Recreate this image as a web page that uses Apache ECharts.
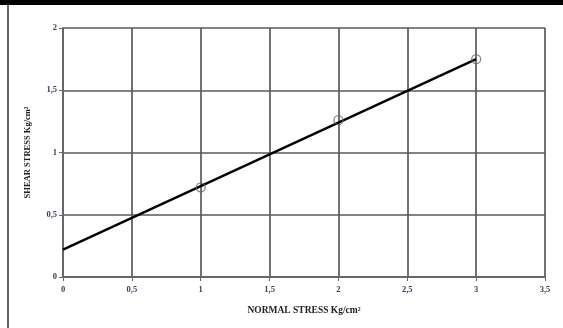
<!DOCTYPE html>
<html><head><meta charset="utf-8">
<script src="https://cdn.jsdelivr.net/npm/echarts@6/dist/echarts.min.js"></script>
<style>html,body{margin:0;padding:0;background:#fff}#c{width:563px;height:328px}</style>
</head><body><div id="c"></div>
<script>
var normalStress = [1, 2, 3];
var shearStress = [0.72, 1.26, 1.75];
var fitX = [0, 3];
var fitY = [0.22, 1.75];
var xTitle = 'NORMAL STRESS Kg/cm²';
var yTitle = 'SHEAR STRESS Kg/cm²';

var chart = echarts.init(document.getElementById('c'));
var font = 'Liberation Serif';
var fmt = function (v) { return String(v).replace('.', ','); };
chart.setOption({
  animation: false,
  grid: { left: 63, top: 28, right: 18, bottom: 51 },
  graphic: [
    { type: 'rect', shape: { x: 0, y: 0, width: 563, height: 5 }, style: { fill: '#000' } },
    { type: 'line', shape: { x1: 8, y1: 5, x2: 8, y2: 328 }, style: { stroke: '#666', lineWidth: 2 } }
  ],
  xAxis: {
    type: 'value', min: 0, max: 3.5, interval: 0.5,
    name: xTitle, nameLocation: 'middle', nameGap: 29,
    nameTextStyle: { fontFamily: font, fontWeight: 'bold', fontSize: 9.5, color: '#222', letterSpacing: -0.3 },
    axisLine: { show: true, lineStyle: { color: '#666', width: 2 } },
    axisTick: { show: true, length: 4, lineStyle: { color: '#666', width: 1 } },
    axisLabel: { formatter: fmt, fontFamily: font, fontWeight: 'bold', fontSize: 8.5, color: '#3a3a55', margin: 8 },
    splitLine: { show: true, lineStyle: { color: '#5a5a5a', width: 1.7 } }
  },
  yAxis: {
    type: 'value', min: 0, max: 2, interval: 0.5,
    name: yTitle, nameLocation: 'middle', nameGap: 31, nameRotate: 90,
    nameTextStyle: { fontFamily: font, fontWeight: 'bold', fontSize: 8.5, color: '#222', letterSpacing: -0.3 },
    axisLine: { show: true, lineStyle: { color: '#666', width: 2 } },
    axisTick: { show: true, length: 4, lineStyle: { color: '#666', width: 1 } },
    axisLabel: { formatter: fmt, fontFamily: font, fontWeight: 'bold', fontSize: 8.5, color: '#3a3a55', margin: 6 },
    splitLine: { show: true, lineStyle: { color: '#5a5a5a', width: 1.7 } }
  },
  series: [
    {
      type: 'line', data: fitX.map(function (x, i) { return [x, fitY[i]]; }),
      symbol: 'none', lineStyle: { color: '#000', width: 2.4 }, z: 3
    },
    {
      type: 'scatter', data: normalStress.map(function (x, i) { return [x, shearStress[i]]; }),
      symbol: 'circle', symbolSize: 9,
      itemStyle: { color: 'rgba(255,255,255,0)', borderColor: '#666', borderWidth: 1.3 }, z: 4
    }
  ]
});
</script></body></html>
